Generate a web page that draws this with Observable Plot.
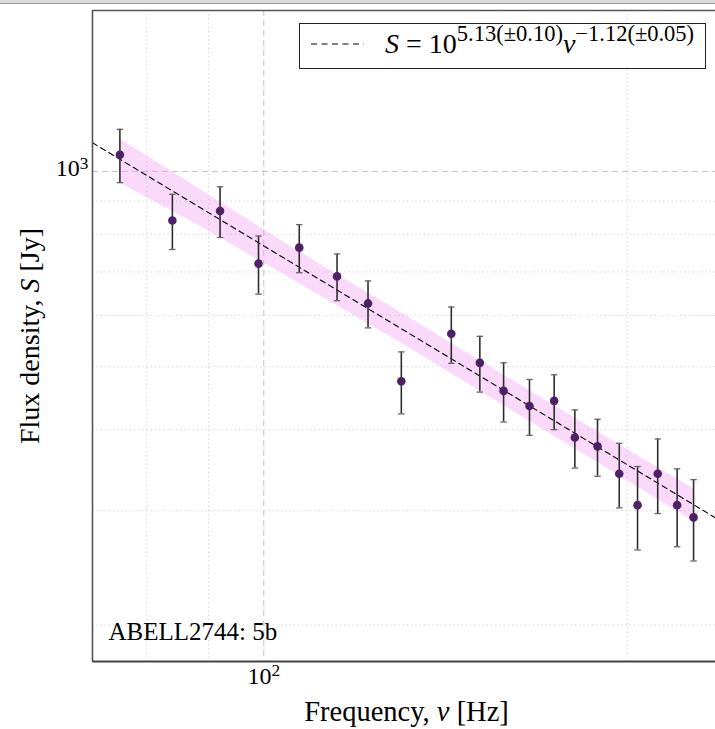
<!DOCTYPE html>
<html><head><meta charset="utf-8">
<script src="https://cdn.jsdelivr.net/npm/d3@7"></script>
<script src="https://cdn.jsdelivr.net/npm/@observablehq/plot@0.6"></script>
<style>
body{margin:0;background:#fff;}
#wrap{position:relative;width:715px;height:729px;overflow:hidden;font-family:"Liberation Serif",serif;background:#fff;}
#chart{position:absolute;left:0;top:0;}
#topbar{position:absolute;left:0;top:0;width:715px;height:3px;background:#dadada;border-bottom:1px solid #9c9c9c;}
#legend{position:absolute;left:299px;top:23px;width:407px;height:46px;border:1px solid #222;background:#fff;box-sizing:border-box;}
#legend svg{position:absolute;left:10px;top:16px;}
#formula{position:absolute;left:85px;top:6px;font-size:28px;line-height:28px;white-space:nowrap;color:#000;}
#formula sup{font-size:22.5px;vertical-align:baseline;position:relative;top:-12px;}
</style></head>
<body>
<div id="wrap">
  <div id="chart"></div>
  <div id="topbar"></div>
  <div id="legend">
    <svg width="56" height="8"><line x1="1" y1="4" x2="54" y2="4" stroke="#000" stroke-width="1.2" stroke-dasharray="6,4.5"/></svg>
    <div id="formula"><i>S</i> = 10<sup>5.13(±0.10)</sup><i>ν</i><sup>−1.12(±0.05)</sup></div>
  </div>
</div>
<script>
// Observed flux densities (Jy) at each frequency (MHz)
const freq = [76, 84, 92, 99, 107, 115, 122, 130, 143, 151, 158, 166, 174, 181, 189, 197, 204, 212, 220, 227];
const flux = [1061, 840, 869, 721, 763, 689, 626, 475, 562, 507, 459, 435, 443, 389, 377, 342, 306, 342, 306, 293];
const fluxErr = [100, 82, 78, 74, 65, 57, 52, 52, 56, 50, 48, 43, 43, 40, 38, 39, 45, 45, 42, 42];

// Fitted power law as drawn (at the frame edges)
const fitFreq = [72.13, 236.7];
const fitFlux = [1107, 292.5];

// Uncertainty band of the fit
const bandFreq = [76, 88.5, 105, 130, 157, 190, 227];
const bandHi = [1122, 939, 768, 605, 489, 395, 324];
const bandLo = [960, 824, 686, 544, 439, 354, 289];

// Axis domains, grid and tick labels (base and exponent)
const xDomain = [72.13, 236.7];
const yDomain = [175.7, 1770];
const xMajor = [100], xMinor = [80, 90, 200];
const yMajor = [1000], yMinor = [200, 300, 400, 500, 600, 700, 800, 900];
const xTickExp = ["2"], yTickExp = ["3"];
const xLabel = "Frequency, ν [Hz]";
const yLabel = "Flux density, S [Jy]";
const annotation = "ABELL2744: 5b";

const points = freq.map((f, i) => ({freq: f, flux: flux[i], err: fluxErr[i]}));
const fit = fitFreq.map((f, i) => ({freq: f, flux: fitFlux[i]}));
const band = bandFreq.map((f, i) => ({freq: f, hi: bandHi[i], lo: bandLo[i]}));

const capSymbol = {draw(ctx, size) { const r = Math.sqrt(size / Math.PI); ctx.moveTo(-r, 0); ctx.lineTo(r, 0); }};

const chart = Plot.plot({
  width: 715, height: 729,
  marginLeft: 92, marginTop: 10, marginBottom: 68, marginRight: 0,
  x: {type: "log", domain: xDomain, axis: null},
  y: {type: "log", domain: yDomain, axis: null},
  style: {fontFamily: "Liberation Serif", background: "white", color: "#000", overflow: "visible"},
  marks: [
    Plot.ruleX(xMinor, {stroke: "#cfcfcf", strokeDasharray: "1.2,3"}),
    Plot.ruleY(yMinor, {stroke: "#cfcfcf", strokeDasharray: "1.2,3"}),
    Plot.ruleX(xMajor, {stroke: "#c2c2c2", strokeDasharray: "6,4"}),
    Plot.ruleY(yMajor, {stroke: "#c2c2c2", strokeDasharray: "6,4"}),
    Plot.areaY(band, {x: "freq", y1: "lo", y2: "hi", fill: "#EE82EE", fillOpacity: 0.3}),
    Plot.line(fit, {x: "freq", y: "flux", stroke: "#000", strokeWidth: 1.1, strokeDasharray: "5.5,4"}),
    Plot.ruleX(points, {x: "freq", y1: d => d.flux - d.err, y2: d => d.flux + d.err, stroke: "#2e2e2e", strokeWidth: 1.6}),
    Plot.dot(points, {x: "freq", y: d => d.flux + d.err, symbol: capSymbol, r: 3.2, stroke: "#666", strokeWidth: 1.3, fill: "none"}),
    Plot.dot(points, {x: "freq", y: d => d.flux - d.err, symbol: capSymbol, r: 3.2, stroke: "#666", strokeWidth: 1.3, fill: "none"}),
    Plot.dot(points, {x: "freq", y: "flux", r: 4.3, fill: "#4e2065"}),
    Plot.ruleX([xDomain[0]], {stroke: "#555", strokeWidth: 1.6}),
    Plot.ruleY([yDomain[0]], {stroke: "#444", strokeWidth: 1.8}),
    Plot.ruleY([yDomain[1]], {stroke: "#555", strokeWidth: 1.6}),
    Plot.text(xMajor, {x: xMajor, text: xTickExp.map(e => "10^" + e), frameAnchor: "bottom", textAnchor: "middle", lineAnchor: "middle", dy: 14.5, fontSize: 24, fill: "#000"}),
    Plot.text(yMajor, {y: yMajor, text: yTickExp.map(e => "10^" + e), frameAnchor: "left", textAnchor: "end", lineAnchor: "middle", dx: -4, dy: -3, fontSize: 24, fill: "#000"}),
    Plot.text([xLabel], {text: d => d, frameAnchor: "bottom", textAnchor: "middle", lineAnchor: "middle", dx: 2.5, dy: 50, fontSize: 28.5, fill: "#000"}),
    Plot.text([yLabel], {text: d => d, frameAnchor: "left", textAnchor: "middle", rotate: -90, lineAnchor: "middle", dx: -62, fontSize: 28, fill: "#000"}),
    Plot.text([annotation], {text: d => d, frameAnchor: "bottom-left", textAnchor: "start", lineAnchor: "middle", dx: 16, dy: -29.5, fontSize: 25, fill: "#000"})
  ]
});
document.getElementById("chart").appendChild(chart);

// italicise the math symbols inside the axis labels
function italicise(full, sym) {
  d3.select(chart).selectAll("text").filter(function() { return this.textContent === full; }).each(function() {
    const t = d3.select(this);
    const [a, b] = full.split(sym);
    t.text(null);
    t.append("tspan").text(a);
    t.append("tspan").attr("font-style", "italic").text(sym);
    t.append("tspan").text(b);
  });
}
italicise(xLabel, "ν");
italicise(yLabel, "S");

// render "10^n" tick labels with a true superscript
d3.select(chart).selectAll("text").filter(function() { return /^10\^\d+$/.test(this.textContent); }).each(function() {
  const t = d3.select(this);
  const exp = this.textContent.split("^")[1];
  t.text(null);
  t.append("tspan").text("10");
  t.append("tspan").attr("dy", "-0.42em").attr("font-size", "0.72em").text(exp);
});
</script>
</body></html>
